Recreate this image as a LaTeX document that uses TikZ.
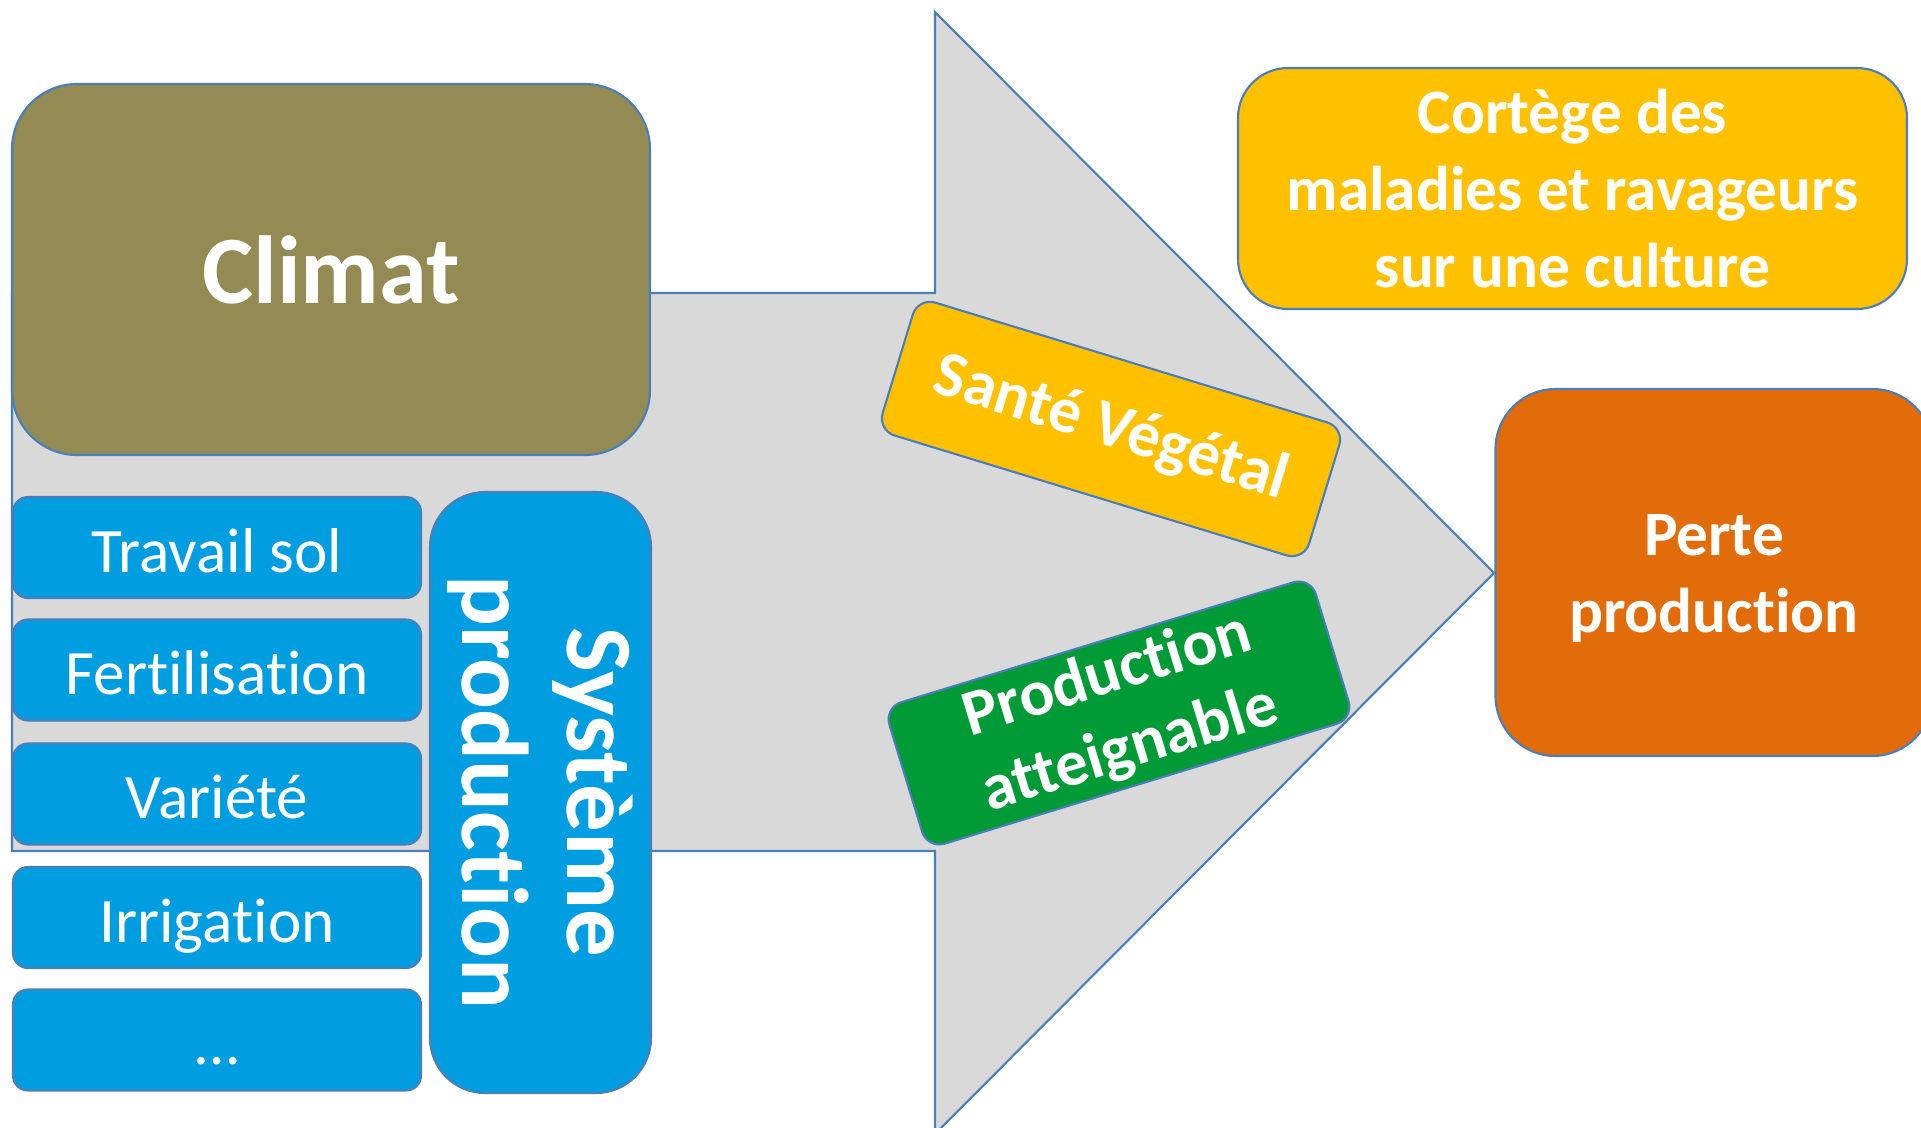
\documentclass[tikz,border=0pt]{standalone}
\usepackage{fontspec}
\setmainfont{Carlito}[Ligatures=NoCommon]

\definecolor{edge}{HTML}{4A7EBB}
\definecolor{climatfill}{HTML}{948A54}
\definecolor{sysblue}{HTML}{009EE0}
\definecolor{gold}{HTML}{FFC000}
\definecolor{perte}{HTML}{E36C0A}
\definecolor{atteint}{HTML}{009A36}
\definecolor{fleche}{HTML}{D9D9D9}

\begin{document}
\begin{tikzpicture}[
  box/.style={draw=edge, line width=0.6pt, text=white, align=center},
  lever/.style={box, fill=sysblue, rounded corners=0.15cm,
                minimum width=4.08cm, minimum height=1.01cm,
                font=\fontsize{18}{21}\selectfont, text height=14pt, text depth=0pt},
  tilt/.style={box, rounded corners=0.18cm, minimum width=4.46cm, minimum height=1.39cm,
               inner sep=2pt, font=\fontsize{18.5}{22}\selectfont\bfseries},
]
  \useasboundingbox (0,0) rectangle (19.21,-11.28);
  \clip (0,0) rectangle (19.21,-11.28);

  % big grey arrow behind everything
  \draw[edge, line width=0.6pt, fill=fleche]
    (0.12,-2.93) -- (9.35,-2.93) -- (9.35,-0.12) -- (14.94,-5.73)
    -- (9.35,-11.34) -- (9.35,-8.51) -- (0.12,-8.51) -- cycle;

  % left: climate + production system
  \node[box, fill=climatfill, rounded corners=0.65cm,
        minimum width=6.38cm, minimum height=3.71cm,
        font=\fontsize{27.5}{33}\selectfont\bfseries]
        (climat) at (3.31,-2.695) {Climat};

  \node[lever] (travail) at (2.17, -5.475) {Travail sol};
  \node[lever] (ferti)   at (2.17, -6.70)  {Fertilisation};
  \node[lever] (variete) at (2.17, -7.94)  {Variété};
  \node[lever] (irrig)   at (2.17, -9.175) {Irrigation};
  \node[lever] (autres)  at (2.17, -10.40) {…};

  \node[box, fill=sysblue, rounded corners=0.55cm, rotate=-90, inner sep=2pt,
        minimum width=6.01cm, minimum height=2.21cm,
        font=\fontsize{27}{30}\selectfont\bfseries]
        (systeme) at (5.405,-7.925) {Système\\production};

  % middle: tilted labels on the arrow
  \node[tilt, fill=gold, rotate=-17]   (sante) at (11.11,-4.29) {Santé Végétal};
  \node[tilt, fill=atteint, rotate=17] (atteignable) at (11.19,-7.13) {Production\\atteignable};

  % right
  \node[box, fill=gold, rounded corners=0.5cm,
        minimum width=6.69cm, minimum height=2.41cm,
        font=\fontsize{18}{21.8}\selectfont\bfseries]
        (cortege) at (15.725,-1.885) {Cortège des\\maladies et ravageurs\\sur une culture};
  \node[box, fill=perte, rounded corners=0.6cm,
        minimum width=4.37cm, minimum height=3.67cm,
        font=\fontsize{18}{21.9}\selectfont\bfseries]
        (pertebox) at (17.14,-5.725) {\strut Perte\\production};
\end{tikzpicture}
\end{document}
